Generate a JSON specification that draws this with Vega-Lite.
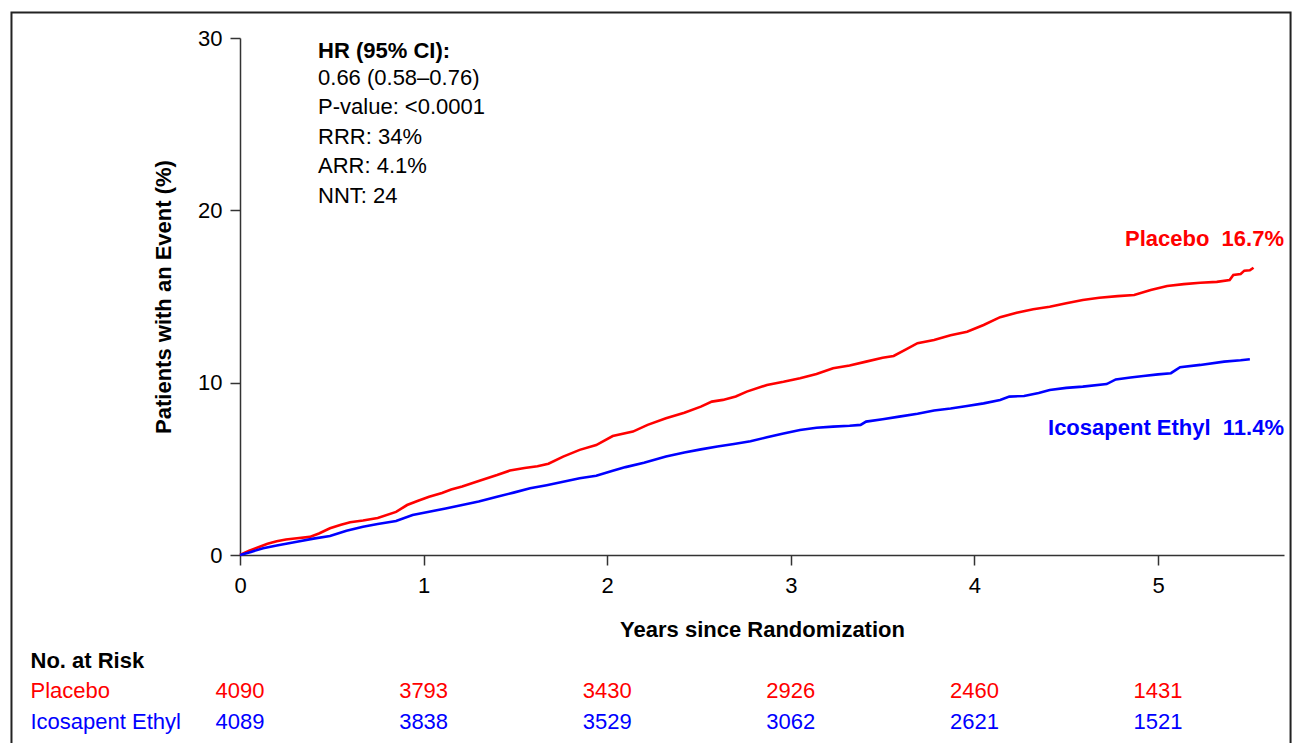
{
  "$schema": "https://vega.github.io/schema/vega-lite/v6.json",
  "width": 1044,
  "height": 517,
  "autosize": {"type": "none"},
  "padding": {"left": 240, "top": 38, "right": 9, "bottom": 188},
  "background": "white",
  "config": {"view": {"stroke": null}, "font": "Liberation Sans"},
  "datasets": {
    "km": [
      {"group": "Placebo", "t": 0, "v": 0},
      {"group": "Placebo", "t": 0.05, "v": 0.25},
      {"group": "Placebo", "t": 0.1, "v": 0.45},
      {"group": "Placebo", "t": 0.15, "v": 0.65},
      {"group": "Placebo", "t": 0.2, "v": 0.8},
      {"group": "Placebo", "t": 0.25, "v": 0.9},
      {"group": "Placebo", "t": 0.31, "v": 0.97},
      {"group": "Placebo", "t": 0.38, "v": 1.05},
      {"group": "Placebo", "t": 0.43, "v": 1.25},
      {"group": "Placebo", "t": 0.49, "v": 1.55},
      {"group": "Placebo", "t": 0.55, "v": 1.75},
      {"group": "Placebo", "t": 0.6, "v": 1.9},
      {"group": "Placebo", "t": 0.67, "v": 2.0},
      {"group": "Placebo", "t": 0.75, "v": 2.15},
      {"group": "Placebo", "t": 0.85, "v": 2.5},
      {"group": "Placebo", "t": 0.91, "v": 2.9},
      {"group": "Placebo", "t": 0.97, "v": 3.15},
      {"group": "Placebo", "t": 1.03, "v": 3.38},
      {"group": "Placebo", "t": 1.1, "v": 3.6},
      {"group": "Placebo", "t": 1.15, "v": 3.8},
      {"group": "Placebo", "t": 1.21, "v": 3.97},
      {"group": "Placebo", "t": 1.3, "v": 4.3},
      {"group": "Placebo", "t": 1.4, "v": 4.64},
      {"group": "Placebo", "t": 1.47, "v": 4.9},
      {"group": "Placebo", "t": 1.55, "v": 5.05},
      {"group": "Placebo", "t": 1.62, "v": 5.15},
      {"group": "Placebo", "t": 1.68, "v": 5.3},
      {"group": "Placebo", "t": 1.76, "v": 5.71},
      {"group": "Placebo", "t": 1.85, "v": 6.1},
      {"group": "Placebo", "t": 1.94, "v": 6.38},
      {"group": "Placebo", "t": 2.03, "v": 6.9},
      {"group": "Placebo", "t": 2.14, "v": 7.16},
      {"group": "Placebo", "t": 2.22, "v": 7.55},
      {"group": "Placebo", "t": 2.32, "v": 7.93},
      {"group": "Placebo", "t": 2.42, "v": 8.25},
      {"group": "Placebo", "t": 2.51, "v": 8.61},
      {"group": "Placebo", "t": 2.57, "v": 8.9},
      {"group": "Placebo", "t": 2.63, "v": 9.0},
      {"group": "Placebo", "t": 2.7, "v": 9.2},
      {"group": "Placebo", "t": 2.76, "v": 9.48},
      {"group": "Placebo", "t": 2.87, "v": 9.87},
      {"group": "Placebo", "t": 2.96, "v": 10.05},
      {"group": "Placebo", "t": 3.05, "v": 10.26},
      {"group": "Placebo", "t": 3.14, "v": 10.5},
      {"group": "Placebo", "t": 3.23, "v": 10.84},
      {"group": "Placebo", "t": 3.32, "v": 11.0},
      {"group": "Placebo", "t": 3.41, "v": 11.22},
      {"group": "Placebo", "t": 3.5, "v": 11.45},
      {"group": "Placebo", "t": 3.56, "v": 11.55},
      {"group": "Placebo", "t": 3.63, "v": 11.95},
      {"group": "Placebo", "t": 3.69, "v": 12.29},
      {"group": "Placebo", "t": 3.78, "v": 12.48},
      {"group": "Placebo", "t": 3.87, "v": 12.75},
      {"group": "Placebo", "t": 3.96, "v": 12.96},
      {"group": "Placebo", "t": 4.05, "v": 13.35},
      {"group": "Placebo", "t": 4.14, "v": 13.8},
      {"group": "Placebo", "t": 4.23, "v": 14.06},
      {"group": "Placebo", "t": 4.32, "v": 14.26},
      {"group": "Placebo", "t": 4.41, "v": 14.4},
      {"group": "Placebo", "t": 4.5, "v": 14.61},
      {"group": "Placebo", "t": 4.59, "v": 14.8},
      {"group": "Placebo", "t": 4.68, "v": 14.93},
      {"group": "Placebo", "t": 4.78, "v": 15.02},
      {"group": "Placebo", "t": 4.87, "v": 15.09},
      {"group": "Placebo", "t": 4.96, "v": 15.38},
      {"group": "Placebo", "t": 5.05, "v": 15.61},
      {"group": "Placebo", "t": 5.14, "v": 15.72},
      {"group": "Placebo", "t": 5.23, "v": 15.8},
      {"group": "Placebo", "t": 5.32, "v": 15.85},
      {"group": "Placebo", "t": 5.39, "v": 15.96},
      {"group": "Placebo", "t": 5.41, "v": 16.25},
      {"group": "Placebo", "t": 5.45, "v": 16.31},
      {"group": "Placebo", "t": 5.47, "v": 16.5},
      {"group": "Placebo", "t": 5.5, "v": 16.52},
      {"group": "Placebo", "t": 5.52, "v": 16.67},
      {"group": "Icosapent Ethyl", "t": 0, "v": 0},
      {"group": "Icosapent Ethyl", "t": 0.06, "v": 0.18},
      {"group": "Icosapent Ethyl", "t": 0.126, "v": 0.39},
      {"group": "Icosapent Ethyl", "t": 0.2, "v": 0.55},
      {"group": "Icosapent Ethyl", "t": 0.31, "v": 0.77},
      {"group": "Icosapent Ethyl", "t": 0.4, "v": 0.95},
      {"group": "Icosapent Ethyl", "t": 0.49, "v": 1.1},
      {"group": "Icosapent Ethyl", "t": 0.58, "v": 1.41},
      {"group": "Icosapent Ethyl", "t": 0.67, "v": 1.64},
      {"group": "Icosapent Ethyl", "t": 0.75, "v": 1.8},
      {"group": "Icosapent Ethyl", "t": 0.85, "v": 1.97},
      {"group": "Icosapent Ethyl", "t": 0.94, "v": 2.32},
      {"group": "Icosapent Ethyl", "t": 1.03, "v": 2.51},
      {"group": "Icosapent Ethyl", "t": 1.12, "v": 2.7},
      {"group": "Icosapent Ethyl", "t": 1.21, "v": 2.9},
      {"group": "Icosapent Ethyl", "t": 1.3, "v": 3.1},
      {"group": "Icosapent Ethyl", "t": 1.4, "v": 3.38},
      {"group": "Icosapent Ethyl", "t": 1.49, "v": 3.62},
      {"group": "Icosapent Ethyl", "t": 1.58, "v": 3.87},
      {"group": "Icosapent Ethyl", "t": 1.67, "v": 4.05},
      {"group": "Icosapent Ethyl", "t": 1.76, "v": 4.25},
      {"group": "Icosapent Ethyl", "t": 1.85, "v": 4.45},
      {"group": "Icosapent Ethyl", "t": 1.94, "v": 4.6},
      {"group": "Icosapent Ethyl", "t": 2.03, "v": 4.89},
      {"group": "Icosapent Ethyl", "t": 2.1, "v": 5.1},
      {"group": "Icosapent Ethyl", "t": 2.2, "v": 5.35},
      {"group": "Icosapent Ethyl", "t": 2.32, "v": 5.71},
      {"group": "Icosapent Ethyl", "t": 2.42, "v": 5.95},
      {"group": "Icosapent Ethyl", "t": 2.51, "v": 6.13},
      {"group": "Icosapent Ethyl", "t": 2.6, "v": 6.3},
      {"group": "Icosapent Ethyl", "t": 2.69, "v": 6.44},
      {"group": "Icosapent Ethyl", "t": 2.78, "v": 6.6},
      {"group": "Icosapent Ethyl", "t": 2.87, "v": 6.83},
      {"group": "Icosapent Ethyl", "t": 2.96, "v": 7.05},
      {"group": "Icosapent Ethyl", "t": 3.05, "v": 7.25},
      {"group": "Icosapent Ethyl", "t": 3.14, "v": 7.38},
      {"group": "Icosapent Ethyl", "t": 3.23, "v": 7.45},
      {"group": "Icosapent Ethyl", "t": 3.32, "v": 7.5},
      {"group": "Icosapent Ethyl", "t": 3.38, "v": 7.55},
      {"group": "Icosapent Ethyl", "t": 3.41, "v": 7.74},
      {"group": "Icosapent Ethyl", "t": 3.5, "v": 7.88},
      {"group": "Icosapent Ethyl", "t": 3.59, "v": 8.03},
      {"group": "Icosapent Ethyl", "t": 3.69, "v": 8.2},
      {"group": "Icosapent Ethyl", "t": 3.78, "v": 8.38},
      {"group": "Icosapent Ethyl", "t": 3.87, "v": 8.5},
      {"group": "Icosapent Ethyl", "t": 3.96, "v": 8.65},
      {"group": "Icosapent Ethyl", "t": 4.05, "v": 8.8},
      {"group": "Icosapent Ethyl", "t": 4.14, "v": 9.0},
      {"group": "Icosapent Ethyl", "t": 4.19, "v": 9.19},
      {"group": "Icosapent Ethyl", "t": 4.27, "v": 9.23},
      {"group": "Icosapent Ethyl", "t": 4.35, "v": 9.4},
      {"group": "Icosapent Ethyl", "t": 4.41, "v": 9.58},
      {"group": "Icosapent Ethyl", "t": 4.5, "v": 9.7},
      {"group": "Icosapent Ethyl", "t": 4.59, "v": 9.77},
      {"group": "Icosapent Ethyl", "t": 4.72, "v": 9.92},
      {"group": "Icosapent Ethyl", "t": 4.77, "v": 10.19},
      {"group": "Icosapent Ethyl", "t": 4.85, "v": 10.3},
      {"group": "Icosapent Ethyl", "t": 4.92, "v": 10.39},
      {"group": "Icosapent Ethyl", "t": 5.0, "v": 10.48},
      {"group": "Icosapent Ethyl", "t": 5.07, "v": 10.55},
      {"group": "Icosapent Ethyl", "t": 5.12, "v": 10.9},
      {"group": "Icosapent Ethyl", "t": 5.23, "v": 11.03},
      {"group": "Icosapent Ethyl", "t": 5.36, "v": 11.22},
      {"group": "Icosapent Ethyl", "t": 5.45, "v": 11.3},
      {"group": "Icosapent Ethyl", "t": 5.5, "v": 11.36}
    ],
    "risk": [
      {"group": "Placebo", "year": 0, "n": 4090},
      {"group": "Placebo", "year": 1, "n": 3793},
      {"group": "Placebo", "year": 2, "n": 3430},
      {"group": "Placebo", "year": 3, "n": 2926},
      {"group": "Placebo", "year": 4, "n": 2460},
      {"group": "Placebo", "year": 5, "n": 1431},
      {"group": "Icosapent Ethyl", "year": 0, "n": 4089},
      {"group": "Icosapent Ethyl", "year": 1, "n": 3838},
      {"group": "Icosapent Ethyl", "year": 2, "n": 3529},
      {"group": "Icosapent Ethyl", "year": 3, "n": 3062},
      {"group": "Icosapent Ethyl", "year": 4, "n": 2621},
      {"group": "Icosapent Ethyl", "year": 5, "n": 1521}
    ]
  },
  "layer": [
    {
      "data": {"values": [{}]},
      "mark": {"type": "rect", "fill": null, "stroke": "#222222", "strokeWidth": 2},
      "encoding": {
        "x": {"datum": -1.2446, "type": "quantitative"},
        "x2": {"datum": 5.7217},
        "y": {"datum": 31.48, "type": "quantitative"},
        "y2": {"datum": -12}
      }
    },
    {
      "data": {"name": "km"},
      "mark": {"type": "line", "interpolate": "linear", "strokeWidth": 2.6, "strokeJoin": "miter"},
      "encoding": {
        "x": {
          "field": "t", "type": "quantitative",
          "scale": {"domain": [0, 5.686], "nice": false, "zero": false},
          "axis": {
            "values": [0, 1, 2, 3, 4, 5], "format": "d",
            "title": "Years since Randomization",
            "titleFontSize": 22, "titleFontWeight": "bold", "titleColor": "black",
            "titleY": 74, "titleBaseline": "middle",
            "labelFontSize": 22, "labelColor": "black", "labelFlush": false,
            "tickSize": 10, "labelPadding": 10,
            "domainColor": "#333333", "tickColor": "#333333", "domainWidth": 1.5, "tickWidth": 1.5,
            "grid": false
          }
        },
        "y": {
          "field": "v", "type": "quantitative",
          "scale": {"domain": [0, 30], "nice": false},
          "axis": {
            "values": [0, 10, 20, 30],
            "title": "Patients with an Event (%)",
            "titleFontSize": 22, "titleFontWeight": "bold", "titleColor": "black",
            "titleX": -77, "titleY": 258.5, "titleAngle": -90, "titleAlign": "center", "titleBaseline": "middle",
            "labelFontSize": 22, "labelColor": "black",
            "tickSize": 10, "labelPadding": 8,
            "domainColor": "#333333", "tickColor": "#333333", "domainWidth": 1.5, "tickWidth": 1.5,
            "grid": false
          }
        },
        "color": {
          "field": "group", "type": "nominal",
          "scale": {"domain": ["Placebo", "Icosapent Ethyl"], "range": ["#ff0000", "#0000ff"]},
          "legend": null
        },
        "detail": {"field": "group"}
      }
    },
    {
      "data": {"values": [{}]},
      "mark": {"type": "text", "align": "left", "baseline": "alphabetic", "fontSize": 22, "fontWeight": "bold", "color": "black"},
      "encoding": {
        "x": {"datum": 0.425, "type": "quantitative"},
        "y": {"datum": 28.857, "type": "quantitative"},
        "text": {"value": "HR (95% CI):"}
      }
    },
    {
      "data": {"values": [{}]},
      "mark": {"type": "text", "align": "left", "baseline": "alphabetic", "fontSize": 22, "lineHeight": 29.5, "color": "black"},
      "encoding": {
        "x": {"datum": 0.425, "type": "quantitative"},
        "y": {"datum": 27.29, "type": "quantitative"},
        "text": {"value": ["0.66 (0.58–0.76)", "P-value: <0.0001", "RRR: 34%", "ARR: 4.1%", "NNT: 24"]}
      }
    },
    {
      "data": {"values": [{}]},
      "mark": {"type": "text", "align": "right", "baseline": "middle", "fontSize": 22, "fontWeight": "bold", "color": "#ff0000"},
      "encoding": {
        "x": {"datum": 5.686, "type": "quantitative"},
        "y": {"datum": 18.32, "type": "quantitative"},
        "text": {"value": "Placebo\u00a0\u00a016.7%"}
      }
    },
    {
      "data": {"values": [{}]},
      "mark": {"type": "text", "align": "right", "baseline": "middle", "fontSize": 22, "fontWeight": "bold", "color": "#0000ff"},
      "encoding": {
        "x": {"datum": 5.686, "type": "quantitative"},
        "y": {"datum": 7.35, "type": "quantitative"},
        "text": {"value": "Icosapent Ethyl\u00a0\u00a011.4%"}
      }
    },
    {
      "data": {"values": [{}]},
      "mark": {"type": "text", "align": "left", "baseline": "middle", "fontSize": 22, "fontWeight": "bold", "color": "black"},
      "encoding": {
        "x": {"datum": -1.141, "type": "quantitative"},
        "y": {"datum": -6.17, "type": "quantitative"},
        "text": {"value": "No. at Risk"}
      }
    },
    {
      "data": {"values": [{}]},
      "mark": {"type": "text", "align": "left", "baseline": "middle", "fontSize": 22, "color": "#ff0000"},
      "encoding": {
        "x": {"datum": -1.141, "type": "quantitative"},
        "y": {"datum": -7.91, "type": "quantitative"},
        "text": {"value": "Placebo"}
      }
    },
    {
      "data": {"values": [{}]},
      "mark": {"type": "text", "align": "left", "baseline": "middle", "fontSize": 22, "color": "#0000ff"},
      "encoding": {
        "x": {"datum": -1.141, "type": "quantitative"},
        "y": {"datum": -9.71, "type": "quantitative"},
        "text": {"value": "Icosapent Ethyl"}
      }
    },
    {
      "data": {"name": "risk"},
      "transform": [{"filter": "datum.group === 'Placebo'"}],
      "mark": {"type": "text", "align": "center", "baseline": "middle", "fontSize": 22, "color": "#ff0000"},
      "encoding": {
        "x": {"field": "year", "type": "quantitative"},
        "y": {"datum": -7.91, "type": "quantitative"},
        "text": {"field": "n", "type": "quantitative", "format": "d"}
      }
    },
    {
      "data": {"name": "risk"},
      "transform": [{"filter": "datum.group === 'Icosapent Ethyl'"}],
      "mark": {"type": "text", "align": "center", "baseline": "middle", "fontSize": 22, "color": "#0000ff"},
      "encoding": {
        "x": {"field": "year", "type": "quantitative"},
        "y": {"datum": -9.71, "type": "quantitative"},
        "text": {"field": "n", "type": "quantitative", "format": "d"}
      }
    }
  ]
}
